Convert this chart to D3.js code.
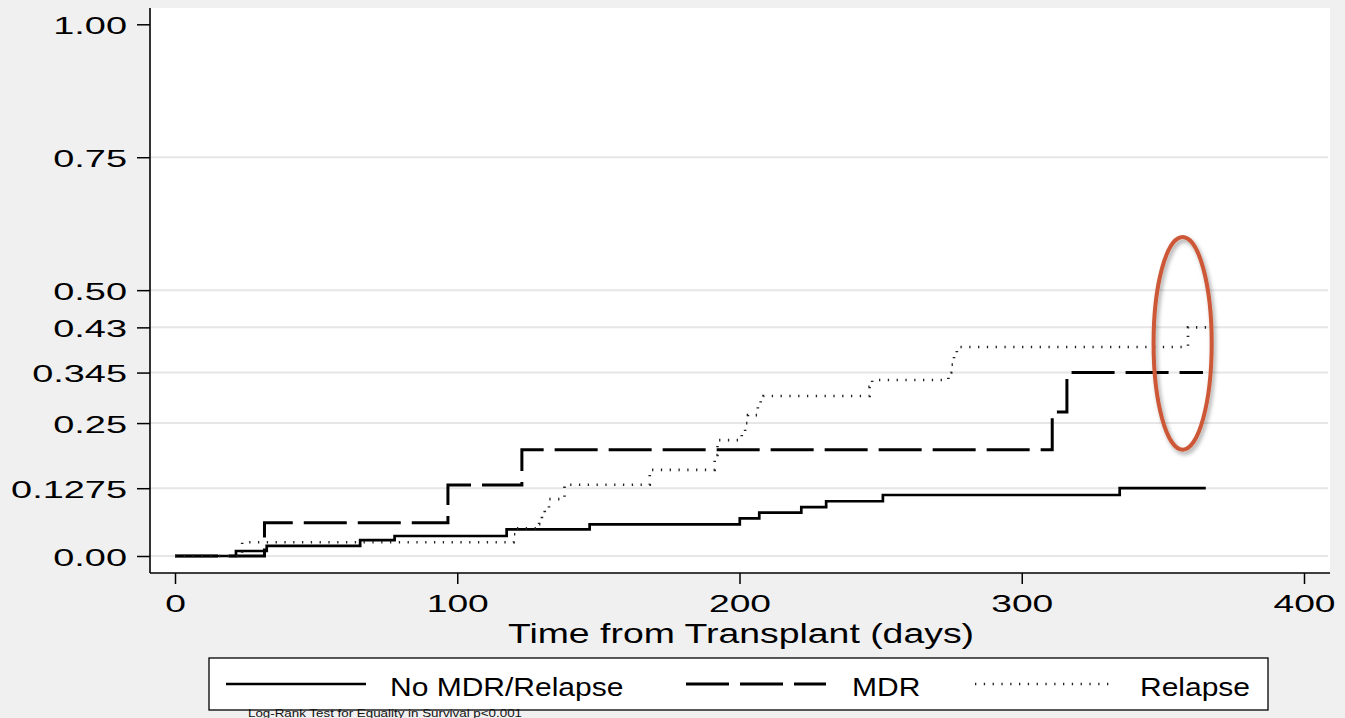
<!DOCTYPE html>
<html>
<head>
<meta charset="utf-8">
<script src="https://cdn.jsdelivr.net/npm/d3@7"></script>
<style>
body { margin: 0; background: #f0f0f0; }
svg { display: block; font-family: "Liberation Sans", Arial, sans-serif; }
</style>
</head>
<body>
<svg id="chart" width="1345" height="718"></svg>
<script>
// cumulative failure (days, proportion)
const noMdrDays = [0, 21.6, 32.5, 65.6, 77.8, 117.5, 146.9, 200.1, 207, 221.9, 230.7, 250.8, 334.7, 365.2];
const noMdrFail = [0, 0.0094, 0.019, 0.030, 0.0376, 0.050, 0.0595, 0.0708, 0.0815, 0.092, 0.103, 0.1147, 0.1275, 0.1275];

const mdrDays = [0, 31.7, 96.7, 122.9, 310.8, 316, 364.2];
const mdrFail = [0, 0.0625, 0.1335, 0.2, 0.271, 0.345, 0.345];

const relapseDays = [0, 23.8, 120, 121, 129, 130, 131, 132.5, 138, 168.2, 191.2, 192.2, 200.8, 202, 203, 206.5, 207.5, 208.5, 246.1, 247, 274, 275, 276, 277, 358.9, 365.4];
const relapseFail = [0, 0.026, 0.041, 0.052, 0.06, 0.075, 0.09, 0.107, 0.134, 0.162, 0.19, 0.218, 0.235, 0.25, 0.265, 0.285, 0.295, 0.301, 0.318, 0.331, 0.345, 0.36, 0.375, 0.393, 0.43, 0.43];

const xTicks = [0, 100, 200, 300, 400];
const yTicks = [0, 0.1275, 0.25, 0.345, 0.43, 0.5, 0.75, 1];
const yTickLabels = ["0.00", "0.1275", "0.25", "0.345", "0.43", "0.50", "0.75", "1.00"];
const seriesNames = ["No MDR/Relapse", "MDR", "Relapse"];

// red ring drawn round the last steps (centre day / proportion, half sizes)
const ringDay = 357, ringFail = 0.40, ringHalfDays = 10.3, ringHalfFail = 0.2;

const plot = {left: 150, right: 1330, top: 8, bottom: 573};

const svg = d3.select("#chart");

const x = d3.scaleLinear().domain([0, 400]).range([175, 1304]);
const y = d3.scaleLinear().domain([0, 1]).range([556, 24.3]);

const defs = svg.append("defs");
const shadow = defs.append("filter").attr("id", "shadow")
    .attr("x", "-50%").attr("y", "-20%").attr("width", "200%").attr("height", "140%");
shadow.append("feDropShadow")
    .attr("dx", 2).attr("dy", 3).attr("stdDeviation", 2.2)
    .attr("flood-color", "#000").attr("flood-opacity", 0.35);

// plot region
svg.append("rect")
    .attr("x", plot.left).attr("y", plot.top)
    .attr("width", plot.right - plot.left).attr("height", plot.bottom - plot.top)
    .attr("fill", "#fff");

// grid lines
svg.append("g")
    .selectAll("line")
    .data(yTicks.filter(d => d < 1))
    .enter()
    .append("line")
    .attr("x1", plot.left).attr("x2", plot.right - 2)
    .attr("y1", d => y(d)).attr("y2", d => y(d))
    .attr("stroke", "#e6e6e6")
    .attr("stroke-width", 2);

// curves
const line = d3.line()
    .x(d => x(d[0]))
    .y(d => y(d[1]))
    .curve(d3.curveStepAfter);

const styles = [
    {dash: null, width: 2.7, color: "#000"},
    {dash: "43,11", width: 3, color: "#000"},
    {dash: "1.3,7.5", width: 2.6, color: "#222"}
];

const series = [
    d3.zip(noMdrDays, noMdrFail),
    d3.zip(mdrDays, mdrFail),
    d3.zip(relapseDays, relapseFail)
];

svg.append("g")
    .selectAll("path")
    .data(series)
    .enter()
    .append("path")
    .attr("d", line)
    .attr("fill", "none")
    .attr("stroke", (d, i) => styles[i].color)
    .attr("stroke-width", (d, i) => styles[i].width)
    .attr("stroke-dasharray", (d, i) => styles[i].dash)
    .attr("stroke-linejoin", "miter");

// Add of the y Axis
const yAxis = svg.append("g")
    .attr("transform", `translate(${plot.left},0)`)
    .call(d3.axisLeft(y).tickValues(yTicks).tickFormat((d, i) => yTickLabels[i]).tickSize(13));
yAxis.select(".domain").remove();
yAxis.attr("font-size", null).attr("font-family", null);
yAxis.selectAll("line").attr("stroke", "#000").attr("stroke-width", 1.5);
yAxis.selectAll("text")
    .attr("x", 0)
    .attr("dy", "0.38em")
    .attr("font-size", 24)
    .attr("fill", "#000")
    .attr("transform", "translate(-23,0) scale(1.58,1)");

// Add of the x Axis
const xAxis = svg.append("g")
    .attr("transform", `translate(0,${plot.bottom})`)
    .call(d3.axisBottom(x).tickValues(xTicks).tickSize(11));
xAxis.select(".domain").remove();
xAxis.attr("font-size", null).attr("font-family", null);
xAxis.selectAll("line").attr("stroke", "#000").attr("stroke-width", 1.5);
xAxis.selectAll("text")
    .attr("y", 0)
    .attr("dy", 0)
    .attr("font-size", 24)
    .attr("fill", "#000")
    .attr("transform", "translate(0,39) scale(1.55,1)");

// axis lines
svg.append("line")
    .attr("x1", plot.left).attr("x2", plot.left)
    .attr("y1", plot.top).attr("y2", plot.bottom)
    .attr("stroke", "#000").attr("stroke-width", 1.6);
svg.append("line")
    .attr("x1", plot.left).attr("x2", plot.right)
    .attr("y1", plot.bottom).attr("y2", plot.bottom)
    .attr("stroke", "#000").attr("stroke-width", 1.6);

svg.append("text")
    .attr("text-anchor", "middle")
    .attr("font-size", 27.5)
    .attr("transform", "translate(741,643) scale(1.36,1)")
    .text("Time from Transplant (days)");

// red ring
svg.append("ellipse")
    .attr("cx", x(ringDay))
    .attr("cy", y(ringFail))
    .attr("rx", x(ringDay + ringHalfDays) - x(ringDay))
    .attr("ry", y(ringFail - ringHalfFail) - y(ringFail))
    .attr("fill", "none")
    .attr("stroke", "#cd5837")
    .attr("stroke-width", 4)
    .attr("filter", "url(#shadow)");

// legend
const legend = svg.append("g");
legend.append("rect")
    .attr("x", 209).attr("y", 658)
    .attr("width", 1059).attr("height", 52)
    .attr("fill", "#fff")
    .attr("stroke", "#000")
    .attr("stroke-width", 1.3);

const keyStart = [226, 686, 975];
const keyEnd = [366, 826, 1115];
const keyText = [390, 852, 1140];

seriesNames.forEach((name, i) => {
    legend.append("line")
        .attr("x1", keyStart[i]).attr("x2", keyEnd[i])
        .attr("y1", 684).attr("y2", 684)
        .attr("stroke", styles[i].color)
        .attr("stroke-width", styles[i].width)
        .attr("stroke-dasharray", styles[i].dash);
    legend.append("text")
        .attr("font-size", 25)
        .attr("transform", `translate(${keyText[i]},696) scale(1.2,1)`)
        .text(name);
});

svg.append("text")
    .attr("x", 248).attr("y", 717)
    .attr("font-size", 11)
    .attr("font-family", "'Liberation Sans Narrow', 'Arial Narrow', 'Liberation Sans', sans-serif")
    .attr("fill", "#111")
    .attr("textLength", 274)
    .attr("lengthAdjust", "spacingAndGlyphs")
    .text("Log-Rank Test for Equality in Survival p<0.001");
</script>
</body>
</html>
